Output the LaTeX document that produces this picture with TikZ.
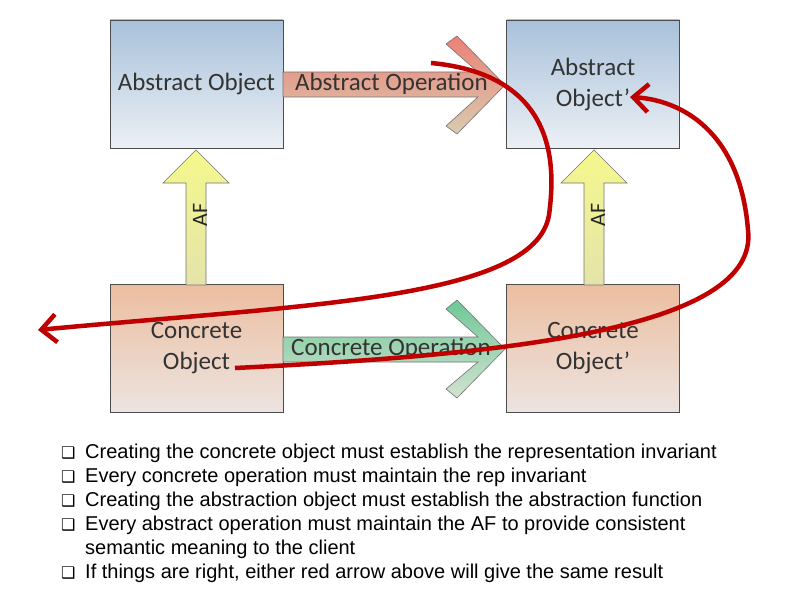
\documentclass[tikz,border=0pt]{standalone}
\usepackage{fontspec}
\setmainfont{Liberation Sans}
\newfontfamily\calib{Carlito}
\newfontfamily\dejav{DejaVu Sans}
\usetikzlibrary{arrows.meta}
\definecolor{redc}{RGB}{192,0,0}
\tikzset{
 objbox/.style={draw=black!70,line width=0.8pt,minimum width=173pt,minimum height=128pt,inner sep=0pt,font=\calib\fontsize{25}{31}\selectfont,align=center,text=black!80},
 absbox/.style={objbox,top color={rgb,255:red,168;green,193;blue,218},bottom color={rgb,255:red,236;green,240;blue,245}},
 conbox/.style={objbox,top color={rgb,255:red,236;green,190;blue,160},bottom color={rgb,255:red,236;green,228;blue,224}},
 arrline/.style={draw=black!55,line width=0.6pt},
 redarr/.style={draw=redc,line width=4.5pt,-{Straight Barb[length=15pt,width=28pt,line width=4.5pt]}},
 bul/.style={anchor=base west,font=\fontsize{20}{22}\selectfont,inner sep=0pt},
 bulmark/.style={anchor=base west,font=\dejav\fontsize{16}{18}\selectfont,inner sep=0pt}
}
\begin{document}
\begin{tikzpicture}[x=1pt,y=-1pt]
\useasboundingbox[fill=white] (0,0) rectangle (794,596);
% boxes
\node[absbox] (ao) at (196.5,84) {Abstract Object};
\node[absbox] (ap) at (593,84) {Abstract\\Object’};
\node[conbox] (co) at (196.5,348.5) {Concrete\\Object};
\node[conbox] (cp) at (593,348.5) {Concrete\\Object’};
% AF arrows
\foreach \cx/\nm in {196/afl,594/afr}{
 \path[arrline,top color={rgb,255:red,245;green,248;blue,140},bottom color={rgb,255:red,228;green,228;blue,170}]
   (\cx-10,285) -- (\cx-10,183) -- (\cx-33,183) -- (\cx,150) -- (\cx+33,183) -- (\cx+10,183) -- (\cx+10,285) -- cycle;
 \node[rotate=90,font=\calib\fontsize{22}{24}\selectfont,text=black!85] (\nm) at (\cx+4,215) {AF};
}
% abstract operation arrow
\path[arrline,top color={rgb,255:red,236;green,128;blue,118},bottom color={rgb,255:red,216;green,204;blue,176}]
 (283,72) -- (478,72) -- (446,44) -- (457,36) -- (505,85) -- (457,134) -- (446,126) -- (478,97) -- (283,97) -- cycle;
\node[font=\calib\fontsize{25}{28}\selectfont,text=black!80,anchor=west,inner sep=0pt] (aop) at (295,84) {Abstract Operation};
% concrete operation arrow
\path[arrline,top color={rgb,255:red,110;green,200;blue,150},bottom color={rgb,255:red,210;green,226;blue,210}]
 (283,337) -- (478,337) -- (446,309) -- (457,300) -- (505,349) -- (457,398) -- (446,389) -- (478,362) -- (283,362) -- cycle;
\node[font=\calib\fontsize{25}{28}\selectfont,text=black!80,anchor=west,inner sep=0pt] (cop) at (291,349) {Concrete Operation};
% red arrows
\coordinate (s1) at (431,63);
\coordinate (e1) at (38,330);
\coordinate (s2) at (235,368);
\coordinate (e2) at (630,97);
\draw[redarr] (s1) .. controls (560,75) and (555,170) .. (549,215)
  .. controls (535,300) and (300,305) .. (e1);
\draw[redarr] (s2) .. controls (500,355) and (760,330) .. (748,230)
  .. controls (740,130) and (680,100) .. (e2);
% bullets
\foreach \y/\t [count=\i] in {458/Creating the concrete object must establish the representation invariant,
 482/Every concrete operation must maintain the rep invariant,
 506/Creating the abstraction object must establish the abstraction function,
 530/Every abstract operation must maintain the AF to provide consistent}{
 \node[bulmark] (m\i) at (61,\y) {❑};
 \node[bul] (t\i) at (85,\y) {\t};
}
\node[bul] (t5) at (85,554) {semantic meaning to the client};
\node[bulmark] (m6) at (61,578) {❑};
\node[bul] (t6) at (85,578) {If things are right, either red arrow above will give the same result};
\end{tikzpicture}
\end{document}
